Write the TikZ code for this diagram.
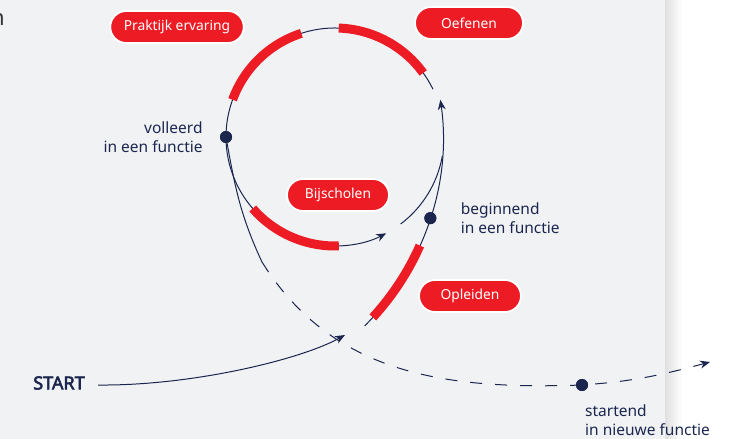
\documentclass[tikz,border=0pt]{standalone}
\usepackage{fontspec}
\setmainfont{Noto Sans}
\newfontfamily\startfont{Noto Sans}[FakeBold=3]
\usepackage{xcolor}
\usetikzlibrary{arrows.meta, positioning, calc}

\definecolor{navy}{RGB}{27,38,79}
\definecolor{signal}{RGB}{237,28,36}
\definecolor{panel}{RGB}{241,242,244}

\begin{document}
\begin{tikzpicture}[
    x=1pt, y=-1pt,
    font=\fontsize{15.5}{19}\selectfont,
    pill/.style={
      rectangle, rounded corners=16pt, draw=white, line width=1.8pt,
      fill=signal, text=white,
      font=\fontsize{13.8}{15}\selectfont,
      minimum width=102pt, minimum height=32pt, inner xsep=13.5pt
    },
    track/.style={navy, line width=1pt},
    redarc/.style={signal, line width=9pt},
    dot/.style={circle, fill=navy, inner sep=0pt, minimum size=12pt},
    stagetext/.style={text=navy, inner sep=0pt},
    arrow/.style={-{Stealth[length=10pt, width=8pt]}}
]

% --- Background ---
\fill[panel] (0,0) rectangle (665,439);
\shade[left color=black!12, right color=white] (665,0) rectangle (682,439);
\useasboundingbox (0,0) rectangle (740,439);
\node[text=black!80, inner sep=0pt, anchor=base east, font=\fontsize{22}{24}\selectfont] (cut) at (5,26) {n};

% --- Centres of the two circles ---
\coordinate (inner) at (335,137);
\coordinate (outer) at (176,137);
\coordinate (entry) at (345,335);
\coordinate (fade) at (262,262);
\coordinate (exit) at (710,362);

% --- Dots ---
\node[dot] (volleerd) at (226,137) {};
\node[dot] (beginnend) at ($(outer)+(17.7:267)$) {};
\node[dot] (startend) at (582,385) {};

% --- Thin lines ---
\draw[track, arrow] ($(inner)+(-26:109)$) arc[start angle=-26, end angle=-298, radius=109];
\draw[track] ($(inner)+(53:109)$) arc[start angle=53, end angle=10, radius=109];
\draw[track, arrow] ($(outer)+(45:267)$) arc[start angle=45, end angle=-8, radius=267];
\draw[track] (volleerd.center) to[out=-80, in=115] (fade);
\draw[track, dash pattern=on 12pt off 13pt, arrow] (fade) to[out=-58, in=182] (startend.center) to[out=4, in=195] (exit);

% --- Red arcs ---
\draw[redarc] ($(inner)+(-88:109)$) arc[start angle=-88, end angle=-36, radius=109];
\draw[redarc] ($(inner)+(-160:109)$) arc[start angle=-160, end angle=-108, radius=109];
\draw[redarc] ($(inner)+(88:109)$) arc[start angle=88, end angle=139, radius=109];
\draw[redarc] ($(outer)+(42.5:267)$) arc[start angle=42.5, end angle=24, radius=267];

% --- Dots on top ---
\node[dot] at (volleerd) {};
\node[dot] at (beginnend) {};
\node[dot] at (startend) {};

% --- Start ---
\node[text=navy, font=\startfont\fontsize{18}{20}\selectfont] (start) at (59,383) {START};
\draw[track, arrow] ([xshift=10pt, yshift=-2pt]start.east) .. controls (190,386) and (300,360) .. (entry);

% --- Texts ---
\node[stagetext, align=right, left=17pt of volleerd] (volleerdtext) {volleerd\\in een functie};
\node[stagetext, align=left, right=24pt of beginnend] (beginnendtext) {beginnend\\in een functie};
\node[stagetext, align=left, below right=13pt and 3pt of startend.south] (startendtext) {startend\\in nieuwe functie};

% --- Pills ---
\node[pill] (praktijk) at (177,27) {Praktijk ervaring};
\node[pill, minimum width=108pt] (oefenen) at (469,23) {Oefenen};
\node[pill] (bijscholen) at (338,195) {Bijscholen};
\node[pill] (opleiden) at (470,296) {Opleiden};

\end{tikzpicture}
\end{document}
